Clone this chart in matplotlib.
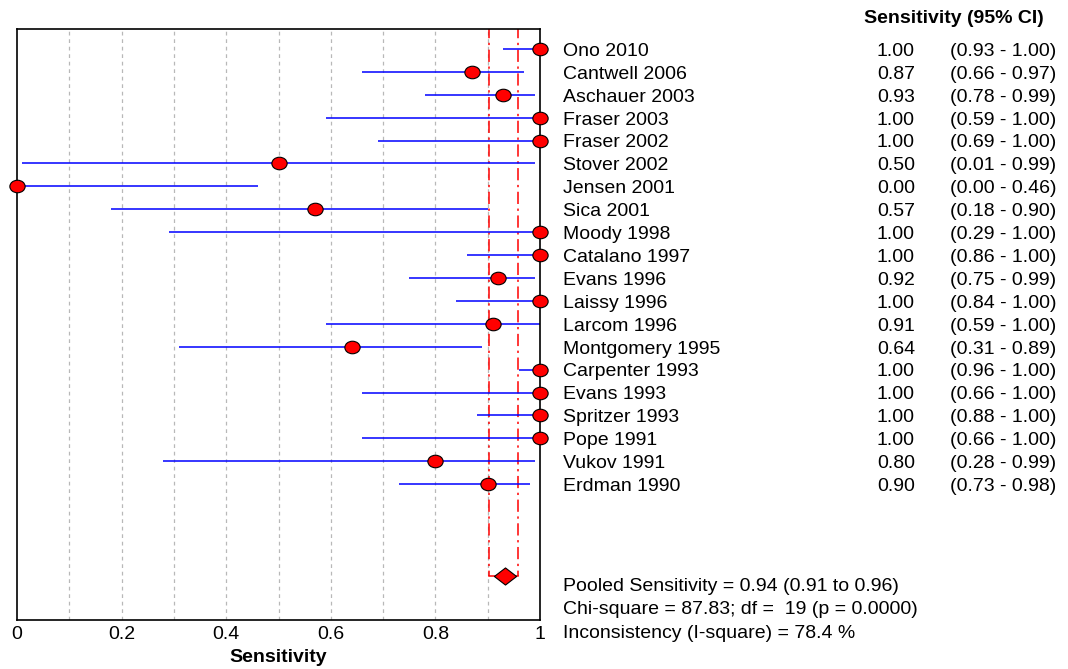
import numpy as np
import matplotlib.pyplot as plt
from matplotlib.path import Path
from matplotlib.transforms import Affine2D

plt.rcParams['font.family'] = ['Liberation Sans', 'DejaVu Sans']

# Study data
studies = ['Ono 2010', 'Cantwell 2006', 'Aschauer 2003', 'Fraser 2003', 'Fraser 2002',
           'Stover 2002', 'Jensen 2001', 'Sica 2001', 'Moody 1998', 'Catalano 1997',
           'Evans 1996', 'Laissy 1996', 'Larcom 1996', 'Montgomery 1995', 'Carpenter 1993',
           'Evans 1993', 'Spritzer 1993', 'Pope 1991', 'Vukov 1991', 'Erdman 1990']
sens = [1.00, 0.87, 0.93, 1.00, 1.00, 0.50, 0.00, 0.57, 1.00, 1.00,
        0.92, 1.00, 0.91, 0.64, 1.00, 1.00, 1.00, 1.00, 0.80, 0.90]
lower = [0.93, 0.66, 0.78, 0.59, 0.69, 0.01, 0.00, 0.18, 0.29, 0.86,
         0.75, 0.84, 0.59, 0.31, 0.96, 0.66, 0.88, 0.66, 0.28, 0.73]
upper = [1.00, 0.97, 0.99, 1.00, 1.00, 0.99, 0.46, 0.90, 1.00, 1.00,
         0.99, 1.00, 1.00, 0.89, 1.00, 1.00, 1.00, 1.00, 0.99, 0.98]

# pooled estimate as drawn in the picture
pooled = 0.933
pooled_ci = [0.902, 0.958]
pooled_text = ['Pooled Sensitivity = 0.94 (0.91 to 0.96)',
               'Chi-square = 87.83; df =  19 (p = 0.0000)',
               'Inconsistency (I-square) = 78.4 %']

FS = 14

# slightly flattened markers
ellipse = Path.unit_circle().transformed(Affine2D().scale(1, 0.82))
diamond = Path([(-1, 0), (0, 0.77), (1, 0), (0, -0.77), (-1, 0)],
               [Path.MOVETO, Path.LINETO, Path.LINETO, Path.LINETO, Path.CLOSEPOLY])

fig = plt.figure(figsize=(10.68, 6.69), dpi=100)
ax = fig.add_axes([17 / 1068, 1 - 620 / 669, 523 / 1068, 591 / 669])

n = len(studies)
ys = np.arange(1, n + 1)
pooled_y = 24

# grid
for g in np.arange(0.1, 1.0, 0.1):
    ax.axvline(g, color='#b8b8b8', ls=(0, (3, 3)), lw=0.9, zorder=0)

# study CIs and points
ax.hlines(ys, lower, upper, color='blue', lw=1.1, zorder=2)
ax.plot(sens, ys, ls='none', marker=ellipse, ms=11, mfc='red', mec='black', mew=0.8,
        zorder=3, clip_on=False)

# pooled CI lines and diamond
for v in pooled_ci:
    ax.plot([v, v], [0, pooled_y], color='red', ls=(0, (8, 3, 1.5, 3)), lw=1.1, zorder=1)
ax.plot(pooled_ci, [pooled_y, pooled_y], color='red', lw=1.1, zorder=1)
ax.plot(pooled, pooled_y, ls='none', marker=diamond, ms=16, mfc='red', mec='black',
        mew=0.8, zorder=4)

ax.set_xlim(0, 1)
ax.set_ylim(25.93, 0.13)
ax.set_yticks([])
ax.set_xticks([0, 0.2, 0.4, 0.6, 0.8, 1])
ax.set_xticklabels(['0', '0.2', '0.4', '0.6', '0.8', '1'])
ax.tick_params(axis='x', length=0, labelsize=FS, pad=4)
ax.set_xlabel('Sensitivity', fontsize=FS, fontweight='bold', labelpad=5)
for s in ax.spines.values():
    s.set_linewidth(1.2)
    s.set_color('black')

# right side text (baseline about half a cap height below the row)
dy = 0.3
for i, name in enumerate(studies):
    y = ys[i] + dy
    ax.text(1.0 + 23 / 523, y, name, fontsize=FS, va='baseline', ha='left', clip_on=False)
    ax.text(1.0 + 375 / 523, y, f'{sens[i]:.2f}', fontsize=FS, va='baseline', ha='right',
            clip_on=False)
    ax.text(1.0 + 410 / 523, y, f'({lower[i]:.2f} - {upper[i]:.2f})', fontsize=FS,
            va='baseline', ha='left', clip_on=False)

fig.text(954 / 1068, 1 - 23 / 669, 'Sensitivity (95% CI)', fontsize=FS, fontweight='bold',
         ha='center', va='baseline')

for k, t in enumerate(pooled_text):
    fig.text(563 / 1068, 1 - (591 + 23.5 * k) / 669, t, fontsize=FS, ha='left', va='baseline')

fig.savefig('out.png', dpi=100)
